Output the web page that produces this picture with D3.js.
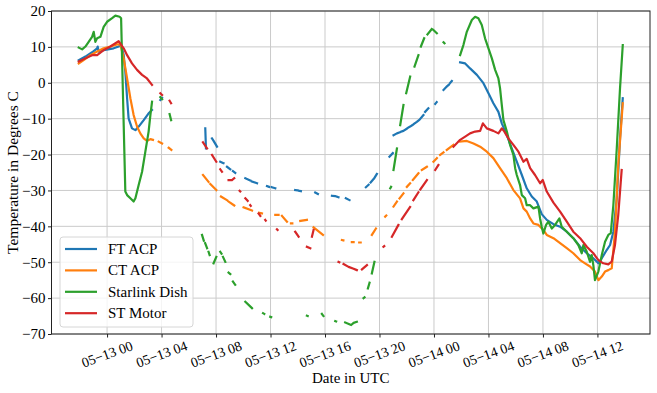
<!DOCTYPE html>
<html>
<head>
<meta charset="utf-8">
<script src="https://cdn.jsdelivr.net/npm/d3@7"></script>
<style>
  body { margin: 0; background: #fff; }
  text { font-family: "Liberation Serif", "Times New Roman", serif; fill: #000; }
</style>
</head>
<body>
<div id="vis"></div>
<script>
// hours since 05-13 00:00 UTC, temperature in C; null = gap in the record
var ftAcp = [
  [-2.08,6.3],[-1.59,7.3],[-1.10,8.5],[-0.73,9.6],[-0.69,10.1],[-0.62,8.7],[-0.25,9.1],[0.48,9.6],[0.85,10.1],[1.03,10.5],[1.22,7.7],[1.34,3.1],[1.47,-4.3],[1.58,-9.9],[1.83,-12.7],[2.08,-13.2],[2.32,-12.2],[2.69,-10.4],[3.05,-8.5],[3.30,-7.6], null,
  [3.91,-4.8],[4.04,-4.2], null,
  [7.21,-12.7],[7.26,-18.3], null,
  [7.70,-15.5],[7.82,-16.2],[8.07,-17.8], null,
  [8.31,-22.0],[8.55,-22.4], null, [8.80,-23.4],[9.05,-24.1], null, [9.24,-24.6],[9.41,-25.1], null,
  [10.15,-26.6],[10.51,-27.2], null, [10.64,-27.5],[11.01,-28.0], null,
  [11.74,-28.8],[11.90,-29.0], null, [12.10,-29.1],[12.35,-29.4], null,
  [13.81,-29.9],[14.00,-30.0], null, [14.10,-30.1],[14.23,-30.2], null,
  [15.28,-30.6],[15.48,-31.0], null,
  [16.51,-31.5],[16.75,-31.6], null, [16.85,-31.7],[16.99,-31.9], null,
  [17.53,-32.2],[17.80,-32.7], null,
  [19.00,-29.1],[19.20,-28.4], null, [19.35,-27.8],[19.55,-26.9], null, [19.63,-26.5],[19.81,-25.4], null,
  [20.73,-20.6],[20.98,-19.6], null,
  [21.03,-14.6],[21.28,-14.1],[21.50,-13.8], null, [21.60,-13.6],[21.76,-13.4],[22.00,-12.8], null,
  [22.10,-12.5],[22.25,-12.2],[22.45,-11.7], null, [22.55,-11.4],[22.74,-10.9],[22.90,-10.4], null,
  [23.00,-10.0],[23.23,-9.0], null,
  [23.35,-8.1],[23.59,-7.1], null,
  [24.09,-5.9],[24.20,-5.4], null,
  [24.70,-2.0],[24.85,-1.4], null, [24.95,-1.0],[25.10,-0.5], null, [25.20,0.0],[25.31,0.5], null,
  [25.92,5.7],[26.29,5.4],[26.65,4.0],[27.15,2.2],[27.63,-0.1],[28.00,-2.9],[28.36,-5.7],[28.73,-8.1],[28.98,-11.3],[29.35,-14.6],[29.71,-18.3],[30.08,-22.0],[30.45,-25.7],[30.81,-29.4],[31.18,-31.7],[31.55,-33.1],[31.91,-36.6],[32.28,-38.2],[32.77,-39.4],[33.26,-40.1],[33.75,-41.5],[34.23,-43.3],[34.73,-45.7],[35.22,-47.5],[35.70,-48.9],[36.07,-50.3],[36.32,-48.9],[36.68,-46.6],[36.93,-45.2],[37.17,-41.5],[37.42,-32.2],[37.66,-15.5],[37.86,-4.3]
];

var ctAcp = [
  [-2.08,5.4],[-1.72,6.3],[-1.22,7.7],[-0.73,8.7],[-0.25,9.6],[0.24,10.1],[0.73,10.7],[0.98,10.7],[1.22,6.8],[1.47,1.2],[1.71,-4.3],[1.95,-9.0],[2.20,-12.2],[2.44,-14.1],[2.69,-15.5],[2.93,-16.2],[3.18,-15.7],[3.37,-15.9], null,
  [3.79,-16.4],[4.04,-16.9], null,
  [4.52,-18.1],[4.72,-18.7], null,
  [7.04,-25.7],[7.45,-27.6], null, [7.58,-28.2],[8.02,-29.9], null,
  [8.36,-31.7],[8.80,-32.7], null, [8.92,-33.1],[9.34,-34.2], null,
  [10.02,-34.7],[10.64,-35.6], null, [11.17,-36.2],[11.37,-36.4], null,
  [12.35,-36.8],[12.59,-36.8], null, [12.84,-37.1],[13.21,-38.7], null,
  [13.50,-39.2],[13.60,-39.2], null, [14.18,-38.5],[14.67,-38.2], null,
  [15.16,-40.3],[15.85,-42.4], null,
  [17.24,-43.8],[17.35,-43.9], null, [17.97,-44.4],[18.10,-44.4], null, [18.51,-44.5],[18.62,-44.5], null,
  [19.44,-42.4],[19.74,-40.6], null, [20.42,-37.3],[20.50,-37.0], null,
  [21.03,-34.5],[21.28,-33.1], null, [21.47,-32.2],[21.76,-30.8], null, [22.01,-29.0],[22.25,-28.0], null,
  [22.45,-27.1],[22.86,-25.2], null, [23.11,-24.3],[23.48,-23.4], null, [23.96,-22.0],[24.21,-21.0], null,
  [24.45,-20.1],[24.70,-19.4], null, [24.94,-18.7],[25.43,-17.3], null,
  [25.92,-16.4],[26.41,-16.2],[26.90,-16.9],[27.39,-17.8],[27.88,-19.2],[28.36,-21.0],[28.85,-23.8],[29.35,-26.6],[29.83,-29.9],[30.32,-32.2],[30.57,-35.0],[30.81,-35.9],[31.06,-37.8],[31.30,-39.2],[31.67,-39.6],[32.03,-41.0],[32.28,-42.4],[32.77,-43.3],[33.26,-44.7],[33.75,-46.1],[34.23,-47.5],[34.73,-49.4],[35.09,-50.3],[35.46,-51.2],[35.82,-52.6],[36.07,-55.0],[36.32,-54.0],[36.56,-52.6],[36.80,-52.2],[37.05,-51.7],[37.29,-41.5],[37.53,-22.9],[37.86,-5.7]
];

var starlinkDish = [
  [-2.08,9.8],[-1.83,9.3],[-1.59,10.1],[-1.35,11.4],[-1.10,12.8],[-0.98,14.2],[-0.86,11.4],[-0.73,12.4],[-0.49,12.8],[-0.25,15.6],[0.00,17.0],[0.37,18.0],[0.61,18.7],[0.92,18.4],[1.03,18.0],[1.34,-30.3],[1.47,-31.3],[1.71,-32.2],[1.95,-33.1],[2.08,-32.2],[2.32,-28.5],[2.57,-24.8],[2.81,-19.2],[3.05,-13.6],[3.18,-9.0],[3.30,-5.3], null,
  [3.91,-4.0],[4.04,-4.6], null,
  [4.59,-8.7],[4.70,-10.4], null,
  [6.97,-42.4],[7.10,-44.0], null, [7.20,-44.7],[7.34,-46.1], null, [7.45,-47.1],[7.53,-48.0], null,
  [7.82,-50.3],[8.02,-48.5], null,
  [8.31,-47.1],[8.40,-47.6], null, [8.51,-48.5],[8.68,-49.9], null,
  [8.92,-52.9],[9.05,-53.3], null, [9.24,-55.4],[9.41,-56.3], null,
  [10.15,-61.0],[10.64,-62.8], null,
  [11.45,-64.2],[11.54,-64.4], null, [11.98,-65.2],[12.05,-65.3], null,
  [14.67,-64.9],[14.73,-65.0], null, [15.77,-64.4],[15.89,-65.0], null, [16.75,-66.4],[16.82,-66.5], null,
  [17.48,-66.8],[17.92,-67.5],[18.10,-66.9],[18.34,-66.6], null,
  [18.83,-60.0],[18.90,-59.8], null, [19.15,-57.3],[19.27,-55.7], null, [19.44,-53.1],[19.63,-49.9], null,
  [20.79,-29.4],[20.85,-29.0], null, [21.03,-24.3],[21.28,-18.3], null, [21.52,-11.8],[21.76,-6.2], null,
  [21.96,-2.9],[22.25,1.7], null, [22.57,4.5],[22.86,7.7], null, [23.04,10.1],[23.28,12.4], null,
  [23.52,13.5],[23.84,15.0], null, [23.96,14.7],[24.21,13.8], null, [24.70,11.3],[24.77,11.0], null,
  [25.92,7.7],[26.16,10.5],[26.41,14.2],[26.78,17.5],[27.02,18.4],[27.26,18.0],[27.51,16.1],[27.75,12.4],[28.00,9.6],[28.25,6.8],[28.49,3.6],[28.73,1.2],[28.85,-1.5],[28.98,-6.2],[29.10,-10.4],[29.35,-13.6],[29.59,-17.3],[29.83,-20.1],[29.96,-23.8],[30.08,-25.7],[30.32,-28.5],[30.45,-31.3],[30.69,-32.2],[30.81,-34.1],[31.06,-34.1],[31.30,-35.0],[31.67,-34.5],[31.79,-37.8],[31.91,-40.1],[32.03,-42.0],[32.23,-39.6],[32.40,-38.7],[32.65,-40.6],[32.89,-39.6],[33.21,-37.8],[33.38,-40.1],[33.75,-41.5],[34.23,-43.3],[34.60,-45.2],[34.85,-47.5],[34.97,-45.2],[35.22,-47.1],[35.46,-49.9],[35.58,-48.0],[35.70,-50.8],[35.82,-55.0],[36.07,-52.6],[36.32,-48.0],[36.56,-44.3],[36.80,-42.4],[36.98,-41.9],[37.17,-34.1],[37.42,-18.3],[37.66,-1.5],[37.86,10.5]
];

var stMotor = [
  [-2.08,5.9],[-1.59,6.8],[-1.10,7.7],[-0.73,7.7],[-0.25,9.1],[0.24,10.1],[0.85,11.6],[1.22,9.6],[1.47,7.7],[1.83,5.4],[2.20,3.6],[2.57,2.2],[2.93,1.2],[3.30,-0.6], null,
  [3.91,-2.9],[4.04,-3.4], null,
  [4.59,-5.0],[4.70,-5.7], null,
  [7.04,-16.6],[7.34,-18.3], null,
  [7.70,-20.1],[8.02,-22.0], null,
  [8.31,-24.1],[8.44,-24.8], null,
  [8.92,-27.1],[9.17,-27.1],[9.34,-26.6], null,
  [9.73,-30.1],[9.78,-30.3], null,
  [10.15,-32.2],[10.32,-32.9], null, [10.51,-34.1],[10.55,-34.3], null,
  [11.12,-36.4],[11.25,-37.1], null, [11.61,-38.2],[11.65,-38.4], null,
  [12.47,-40.8],[12.52,-41.0], null,
  [13.81,-41.5],[14.06,-42.9], null, [14.67,-45.7],[14.92,-46.1], null, [15.04,-42.9],[15.16,-41.0], null,
  [16.99,-49.9],[17.05,-50.0], null, [17.36,-50.5],[17.73,-51.3],[18.10,-51.8],[18.34,-52.2], null, [18.71,-52.0],[19.08,-50.8], null,
  [20.29,-45.7],[20.35,-45.5], null,
  [20.91,-42.9],[21.39,-39.6], null, [21.64,-38.0],[22.25,-34.6], null,
  [22.49,-32.7],[22.86,-30.5], null, [23.00,-29.7],[23.48,-27.1], null,
  [24.09,-24.3],[24.33,-22.9], null,
  [25.43,-17.8],[25.92,-15.9],[26.29,-15.0],[26.65,-14.1],[27.02,-13.6],[27.39,-13.4],[27.59,-11.3],[27.88,-12.7],[28.36,-13.4],[28.73,-14.1],[28.98,-12.7],[29.17,-13.6],[29.46,-15.5],[29.83,-17.3],[30.20,-19.2],[30.57,-22.0],[30.81,-21.2],[31.06,-23.8],[31.42,-25.7],[31.79,-28.0],[31.99,-27.1],[32.28,-30.3],[32.77,-33.4],[33.26,-35.9],[33.75,-38.7],[34.23,-41.5],[34.73,-43.3],[35.22,-45.7],[35.70,-47.5],[36.07,-49.4],[36.43,-50.3],[36.80,-50.6],[37.05,-49.8],[37.29,-45.2],[37.53,-36.8],[37.78,-24.3]
];

var seriesNames = ["FT ACP", "CT ACP", "Starlink Dish", "ST Motor"];
var seriesColors = ["#1f77b4", "#ff7f0e", "#2ca02c", "#d62728"];
var yTicks = [-70, -60, -50, -40, -30, -20, -10, 0, 10, 20];
var xTickHours = [0, 4, 8, 12, 16, 20, 24, 28, 32, 36];
var xTickLabels = ["05\u221213 00", "05\u221213 04", "05\u221213 08", "05\u221213 12", "05\u221213 16",
                   "05\u221213 20", "05\u221214 00", "05\u221214 04", "05\u221214 08", "05\u221214 12"];

var t0 = Date.UTC(2023, 4, 13);
function toDate(h) { return new Date(t0 + h * 3600000); }

var width = 657, height = 393;
var plot = {left: 51.5, right: 650, top: 11, bottom: 334};

var svg = d3.select("#vis").append("svg")
    .attr("width", width)
    .attr("height", height);

var x = d3.scaleUtc()
    .domain([toDate(-4.08), toDate(39.86)])
    .range([plot.left, plot.right]);

var y = d3.scaleLinear()
    .domain([-70, 20])
    .range([plot.bottom, plot.top]);

// grid
svg.append("g").selectAll("line")
  .data(yTicks)
  .enter().append("line")
    .attr("x1", plot.left).attr("x2", plot.right)
    .attr("y1", function(d) { return y(d); })
    .attr("y2", function(d) { return y(d); })
    .attr("stroke", "#cbcbcb").attr("stroke-width", 1);

svg.append("g").selectAll("line")
  .data(xTickHours)
  .enter().append("line")
    .attr("y1", plot.top).attr("y2", plot.bottom)
    .attr("x1", function(d) { return x(toDate(d)); })
    .attr("x2", function(d) { return x(toDate(d)); })
    .attr("stroke", "#cbcbcb").attr("stroke-width", 1);

// series
var line = d3.line()
    .defined(function(d) { return d !== null; })
    .x(function(d) { return x(toDate(d[0])); })
    .y(function(d) { return y(d[1]); });

var allSeries = [ftAcp, ctAcp, starlinkDish, stMotor];

svg.append("g").selectAll("path")
  .data(allSeries)
  .enter().append("path")
    .attr("d", line)
    .attr("fill", "none")
    .attr("stroke", function(d, i) { return seriesColors[i]; })
    .attr("stroke-width", 2.2)
    .attr("stroke-linejoin", "round")
    .attr("stroke-linecap", "square");

// frame
svg.append("rect")
    .attr("x", plot.left).attr("y", plot.top)
    .attr("width", plot.right - plot.left)
    .attr("height", plot.bottom - plot.top)
    .attr("fill", "none")
    .attr("stroke", "#222")
    .attr("stroke-width", 1);

// y axis
var yAxis = svg.append("g")
    .attr("transform", "translate(" + plot.left + ",0)")
    .call(d3.axisLeft(y).tickValues(yTicks).tickSize(3.5).tickPadding(2.5));
yAxis.select(".domain").remove();
yAxis.selectAll("text")
    .style("font-family", "'Liberation Serif', serif")
    .style("font-size", "15px");
yAxis.selectAll("line").attr("stroke", "#222");

// x axis, rotated labels
var xAxis = svg.append("g")
    .attr("transform", "translate(0," + plot.bottom + ")")
    .call(d3.axisBottom(x)
      .tickValues(xTickHours.map(toDate))
      .tickSize(3.5)
      .tickFormat(""));
xAxis.select(".domain").remove();
xAxis.selectAll("line").attr("stroke", "#222");

svg.append("g").selectAll("text")
  .data(xTickHours)
  .enter().append("text")
    .attr("transform", function(d) { return "translate(" + x(toDate(d)) + ",354) rotate(-20)"; })
    .attr("text-anchor", "middle")
    .attr("dy", "0.35em")
    .style("font-size", "14px")
    .text(function(d, i) { return xTickLabels[i]; });

// axis labels
svg.append("text")
    .attr("x", (plot.left + plot.right) / 2)
    .attr("y", 383)
    .attr("text-anchor", "middle")
    .style("font-size", "15px")
    .text("Date in UTC");

svg.append("text")
    .attr("transform", "translate(18," + ((plot.top + plot.bottom) / 2) + ") rotate(-90)")
    .attr("text-anchor", "middle")
    .style("font-size", "15.5px")
    .text("Temperature in Degrees C");

// legend
var legend = svg.append("g").attr("transform", "translate(60,237)");
legend.append("rect")
    .attr("width", 133).attr("height", 90)
    .attr("rx", 3)
    .attr("fill", "#fff").attr("fill-opacity", 0.8)
    .attr("stroke", "#d6d6d6");

var item = legend.selectAll(".item")
  .data(seriesNames)
  .enter().append("g")
    .attr("class", "item")
    .attr("transform", function(d, i) { return "translate(0," + (12 + i * 21.4) + ")"; });

item.append("line")
    .attr("x1", 5).attr("x2", 37)
    .attr("stroke", function(d, i) { return seriesColors[i]; })
    .attr("stroke-width", 2.2);

item.append("text")
    .attr("x", 48)
    .attr("dy", "0.33em")
    .style("font-size", "15px")
    .text(function(d) { return d; });
</script>
</body>
</html>
